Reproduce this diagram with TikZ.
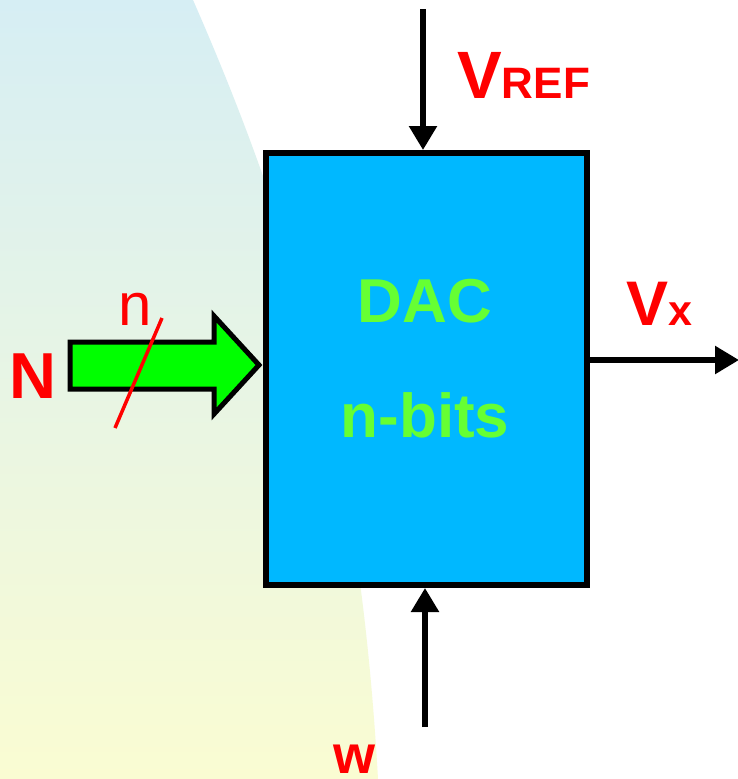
\documentclass[tikz,border=0pt]{standalone}
\usepackage{fontspec}
\setmainfont{Liberation Sans}
\usetikzlibrary{arrows.meta}
\definecolor{bgtop}{RGB}{214,238,244}
\definecolor{bgmid}{RGB}{232,245,228}
\definecolor{bgbot}{RGB}{250,252,210}
\definecolor{dacblue}{RGB}{0,184,255}
\definecolor{txtgreen}{RGB}{102,255,51}
\definecolor{arrgreen}{RGB}{0,255,0}
\tikzset{
  sig/.style={line width=5.5pt, -{Triangle[length=24pt,width=27pt]}},
  lbl/.style={text=red, font=\bfseries, inner sep=0pt},
  dactext/.style={text=txtgreen, inner sep=0pt, anchor=base},
}
\begin{document}
\begin{tikzpicture}[x=1pt,y=-1pt]
\clip (0,0) rectangle (738,779);
\fill[white] (0,0) rectangle (738,779);
% background shape
\shade[top color=bgtop, bottom color=bgbot, middle color=bgmid]
  (0,0) -- (193,0) .. controls (307,260) and (361,480) .. (378,779) -- (0,779) -- cycle;
% DAC box
\node[draw=black, fill=dacblue, line width=6pt, minimum width=320.5pt, minimum height=432pt, inner sep=0pt] (dac) at (426.25,369) {};
\node[dactext, font=\bfseries\fontsize{62}{62}\selectfont] (t1) at (425,322) {DAC};
\node[dactext, font=\bfseries\fontsize{62}{62}\selectfont] (t2) at (425,437) {n-bits};
% input bus arrow
\draw[line width=5pt, fill=arrgreen, line join=miter]
  (70,342) -- (214,342) -- (214,316) -- (259,365) -- (214,414) -- (214,389) -- (70,389) -- cycle;
\coordinate (slA) at (115,428);
\coordinate (slB) at (162,318);
\draw[red, line width=3.5pt] (slA) -- (slB);
\node[lbl, anchor=base, font=\bfseries\fontsize{65}{65}\selectfont] (N) at (33,398) {N};
\node[text=red, inner sep=0pt, anchor=base, font=\fontsize{60}{60}\selectfont] (nn) at (135,325) {n};
% VREF arrow
\coordinate (vreftop) at (423,9);
\draw[sig] (vreftop) -- (vreftop |- dac.north);
\node[lbl, anchor=base west] (vref) at (457,98) {{\fontsize{67}{67}\selectfont V}{\fontsize{44}{44}\selectfont REF}};
% W arrow
\coordinate (wbot) at (425,727);
\draw[sig] (wbot) -- (wbot |- dac.south);
\node[lbl, anchor=base, font=\bfseries\fontsize{54}{54}\selectfont] (w) at (354,773) {w};
% Vx arrow
\coordinate (vxend) at (739,360);
\draw[sig] (dac.east |- vxend) -- (vxend);
\node[lbl, anchor=base west] (vx) at (626,325) {{\fontsize{63}{63}\selectfont V}{\fontsize{43}{43}\selectfont x}};
\end{tikzpicture}
\end{document}
